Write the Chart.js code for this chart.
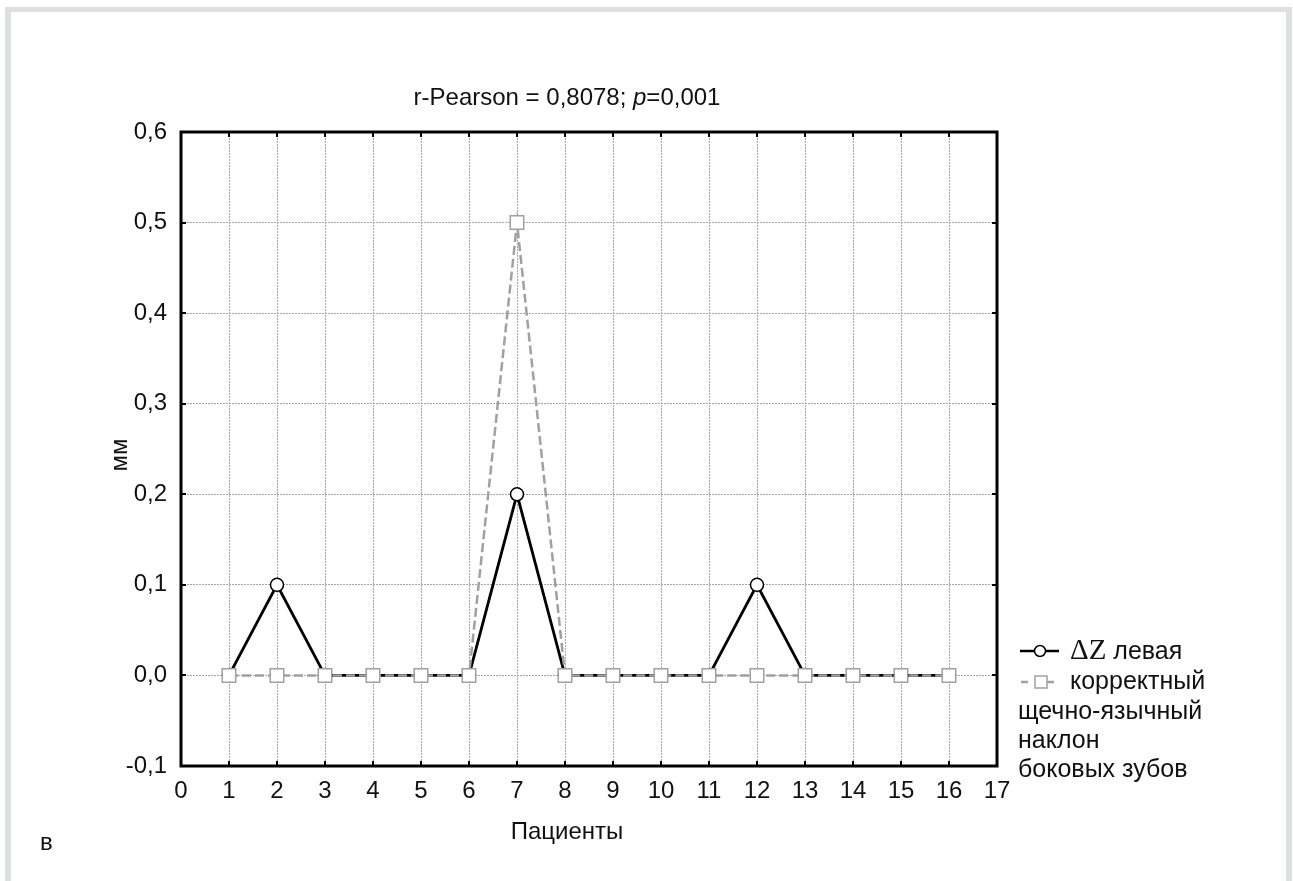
<!DOCTYPE html>
<html>
<head>
<meta charset="utf-8">
<script src="https://cdn.jsdelivr.net/npm/chart.js@4"></script>
<style>
  body { margin: 0; background: #fff; }
  canvas { display: block; }
</style>
</head>
<body>
<canvas id="chart" width="1293" height="881"></canvas>
<script>
// данные с графика
const patients = [1, 2, 3, 4, 5, 6, 7, 8, 9, 10, 11, 12, 13, 14, 15, 16];
const deltaZLeft = [0, 0.1, 0, 0, 0, 0, 0.2, 0, 0, 0, 0, 0.1, 0, 0, 0, 0];
const correctTilt = [0, 0, 0, 0, 0, 0, 0.5, 0, 0, 0, 0, 0, 0, 0, 0, 0];
const xTicks = [0, 1, 2, 3, 4, 5, 6, 7, 8, 9, 10, 11, 12, 13, 14, 15, 16, 17];
const yTicks = [-0.1, 0, 0.1, 0.2, 0.3, 0.4, 0.5, 0.6];

const FONT = '"Liberation Sans", Arial, sans-serif';
const SERIF = '"Liberation Serif", "Times New Roman", serif';

function toPoints(vals) {
    return patients.map((p, i) => ({ x: p, y: vals[i] }));
}

// рамка, подписи, легенда
const decor = {
    id: 'decor',
    beforeDraw(chart) {
        const ctx = chart.ctx;
        ctx.save();
        ctx.fillStyle = '#dde0df';
        ctx.fillRect(5, 7, 1287, 5);
        ctx.fillRect(5, 7, 6, 874);
        ctx.fillRect(1286, 7, 6, 874);
        ctx.restore();
    },
    afterDraw(chart) {
        const ctx = chart.ctx;
        const a = chart.chartArea;
        const xs = chart.scales.x, ys = chart.scales.y;
        ctx.save();

        // рамка и внутренние засечки
        ctx.strokeStyle = '#000';
        ctx.lineWidth = 2;
        ctx.beginPath();
        xTicks.forEach(v => {
            const px = Math.round(xs.getPixelForValue(v));
            ctx.moveTo(px, a.top); ctx.lineTo(px, a.top + 5);
            ctx.moveTo(px, a.bottom); ctx.lineTo(px, a.bottom - 5);
        });
        yTicks.forEach(v => {
            const py = Math.round(ys.getPixelForValue(v));
            ctx.moveTo(a.left, py); ctx.lineTo(a.left + 5, py);
            ctx.moveTo(a.right, py); ctx.lineTo(a.right - 5, py);
        });
        ctx.stroke();
        ctx.lineWidth = 3;
        ctx.strokeRect(a.left, a.top, a.right - a.left, a.bottom - a.top);

        ctx.fillStyle = '#111';
        ctx.textBaseline = 'middle';

        // заголовок
        const parts = [
            ['r-Pearson = 0,8078; ', '24px ' + FONT],
            ['p', 'italic 24px ' + FONT],
            ['=0,001', '24px ' + FONT]
        ];
        let total = 0;
        parts.forEach(p => { ctx.font = p[1]; total += ctx.measureText(p[0]).width; });
        let tx = 567 - total / 2;
        ctx.textAlign = 'left';
        parts.forEach(p => {
            ctx.font = p[1];
            ctx.fillText(p[0], tx, 98);
            tx += ctx.measureText(p[0]).width;
        });

        // подписи осей
        ctx.font = '24px ' + FONT;
        ctx.textAlign = 'center';
        ctx.fillText('Пациенты', 567, 832);
        ctx.save();
        ctx.translate(120, 455);
        ctx.rotate(-Math.PI / 2);
        ctx.fillText('мм', 0, 0);
        ctx.restore();

        ctx.textAlign = 'left';
        ctx.fillText('в', 40, 843);

        // легенда
        ctx.strokeStyle = '#000';
        ctx.lineWidth = 2.5;
        ctx.setLineDash([]);
        ctx.beginPath();
        ctx.moveTo(1020, 651); ctx.lineTo(1059, 651);
        ctx.stroke();
        ctx.fillStyle = '#fff';
        ctx.lineWidth = 1.5;
        ctx.beginPath();
        ctx.arc(1040, 651, 5.5, 0, Math.PI * 2);
        ctx.fill(); ctx.stroke();

        ctx.strokeStyle = '#a0a0a0';
        ctx.lineWidth = 2.5;
        ctx.beginPath();
        ctx.moveTo(1021, 682); ctx.lineTo(1028, 682);
        ctx.moveTo(1047, 682); ctx.lineTo(1054, 682);
        ctx.stroke();
        ctx.lineWidth = 1.5;
        ctx.fillStyle = '#fff';
        ctx.fillRect(1035, 676, 12, 12);
        ctx.strokeRect(1035, 676, 12, 12);

        ctx.fillStyle = '#111';
        ctx.font = '29px ' + SERIF;
        ctx.fillText('ΔZ', 1070, 651);
        const dw = ctx.measureText('ΔZ').width;
        ctx.font = '25px ' + FONT;
        ctx.fillText(' левая', 1070 + dw, 652);
        ctx.fillText('корректный', 1070, 682);
        ctx.fillText('щечно-язычный', 1018, 712);
        ctx.fillText('наклон', 1018, 741);
        ctx.fillText('боковых зубов', 1018, 770);

        ctx.restore();
    }
};

const ctx = document.getElementById('chart').getContext('2d');
const chart = new Chart(ctx, {
    type: 'line',
    data: {
        datasets: [
            {
                label: 'ΔZ левая',
                data: toPoints(deltaZLeft),
                borderColor: '#000',
                borderWidth: 2.8,
                pointStyle: 'circle',
                pointRadius: 6.5,
                pointBackgroundColor: '#fff',
                pointBorderColor: '#000',
                pointBorderWidth: 1.5,
                order: 1
            },
            {
                label: 'корректный щечно-язычный наклон боковых зубов',
                data: toPoints(correctTilt),
                borderColor: '#a0a0a0',
                borderWidth: 2.5,
                borderDash: [9, 4],
                pointStyle: 'rect',
                pointRadius: 9.5,
                pointBackgroundColor: '#fff',
                pointBorderColor: '#a0a0a0',
                pointBorderWidth: 1.5,
                order: 0
            }
        ]
    },
    options: {
        responsive: false,
        animation: false,
        devicePixelRatio: 1,
        layout: { padding: { left: 100, top: 132, right: 296, bottom: 0 } },
        plugins: {
            legend: { display: false },
            title: { display: false },
            tooltip: { enabled: false }
        },
        scales: {
            x: {
                type: 'linear',
                min: 0,
                max: 17,
                afterFit: s => { s.height = 115; },
                afterBuildTicks: s => { s.ticks = xTicks.map(v => ({ value: v })); },
                ticks: {
                    padding: 11,
                    color: '#111',
                    font: { family: FONT, size: 24 },
                    maxRotation: 0,
                    autoSkip: false,
                    callback: v => String(v)
                },
                grid: { color: '#a5a5a5', lineWidth: 1, drawTicks: false },
                border: { display: false, dash: [2, 1] }
            },
            y: {
                type: 'linear',
                min: -0.1,
                max: 0.6,
                afterFit: s => { s.width = 81; },
                afterBuildTicks: s => { s.ticks = yTicks.map(v => ({ value: v })); },
                ticks: {
                    padding: 14,
                    color: '#111',
                    font: { family: FONT, size: 24 },
                    callback: v => v.toFixed(1).replace('.', ',')
                },
                grid: { color: '#a5a5a5', lineWidth: 1, drawTicks: false },
                border: { display: false, dash: [2, 1] }
            }
        }
    },
    plugins: [decor]
});
</script>
</body>
</html>
